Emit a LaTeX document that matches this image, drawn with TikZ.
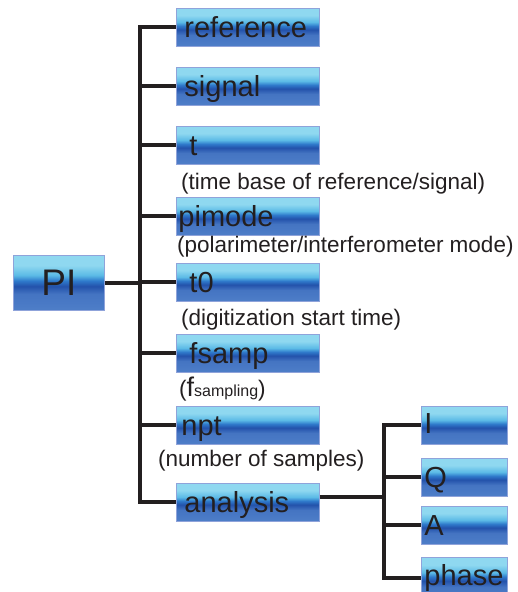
\documentclass[tikz,border=0pt]{standalone}
\usepackage{fontspec}
\setmainfont{Liberation Sans}
\definecolor{bL}{HTML}{8FD8F0}
\definecolor{bC}{HTML}{5BBAE6}
\definecolor{bM}{HTML}{2F7ACB}
\definecolor{bD}{HTML}{2352AB}
\definecolor{bB}{HTML}{4474C2}
\definecolor{bB0}{HTML}{4E7EC8}
\definecolor{bdr}{HTML}{8FA3DA}
\definecolor{ink}{HTML}{231F20}
\pgfdeclareverticalshading{boxshade}{100bp}{color(0bp)=(bB0); color(25bp)=(bB0); color(40bp)=(bB); color(47bp)=(bD); color(52bp)=(bM); color(57bp)=(bC); color(66bp)=(bL); color(75bp)=(bL); color(100bp)=(bL)}
\tikzset{
  gbox/.style={draw=bdr, line width=0.9pt, shading=boxshade, rectangle, anchor=north west,
    minimum height=38pt, text=ink, font=\fontsize{29pt}{29pt}\selectfont,
    text height=21pt, text depth=0pt, align=left},
  lbox/.style={gbox, minimum width=143pt, text width=127pt, inner xsep=8pt},
  rbox/.style={gbox, minimum width=86pt, text width=80pt, inner xsep=3pt},
  lbl/.style={anchor=base west, inner sep=0pt, text=ink, font=\fontsize{22.5pt}{22.5pt}\selectfont},
  conn/.style={draw=ink, line width=4pt, line join=miter}
}
\begin{document}
\begin{tikzpicture}[x=1pt,y=-1pt]
\useasboundingbox (0,0) rectangle (517,592);
% main nodes
\node[gbox, minimum width=91pt, minimum height=55pt, align=center, text width=85pt, inner xsep=3pt,
      font=\fontsize{37pt}{37pt}\selectfont, text height=25pt] (PI) at (13,255) {PI};
\node[lbox] (ref) at (176,8) {reference};
\node[lbox] (sig) at (176,67) {signal};
\node[lbox] (t) at (176,126) {\hspace*{5pt}t};
\node[lbox] (pim) at (176,197) {\hspace*{-6pt}pimode};
\node[lbox] (tz) at (176,263) {\hspace*{5pt}t0};
\node[lbox] (fs) at (176,334) {\hspace*{5pt}fsamp};
\node[lbox] (npt) at (176,406) {\hspace*{-3pt}npt};
\node[lbox] (an) at (176,483) {analysis};
\node[rbox, text height=16pt] (I) at (421,406) {I};
\node[rbox] (Q) at (421,458) {Q};
\node[rbox] (A) at (421,506) {A};
\node[rbox, minimum height=42pt, text height=14pt] (ph) at (421,557) {phase};
% labels
\node[lbl] (l1) at (181,189) {(time base of reference/signal)};
\node[lbl] (l2) at (177,252) {(polarimeter/interferometer mode)};
\node[lbl] (l3) at (181,325) {(digitization start time)};
\node[lbl] (l4) at (179,396) {({\fontsize{27pt}{27pt}\selectfont f}{\fontsize{16pt}{16pt}\selectfont sampling})};
\node[lbl] (l5) at (158,466) {(number of samples)};
% connectors
\coordinate (tk) at (140,0);
\coordinate (tk2) at (384,0);
\draw[conn] (ref.west) -| (tk |- an.west) -- (an.west);
\draw[conn] (sig.west) -- (sig.west -| tk);
\draw[conn] (t.west) -- (t.west -| tk);
\draw[conn] (pim.west) -- (pim.west -| tk);
\draw[conn] (tz.west) -- (tz.west -| tk);
\draw[conn] (fs.west) -- (fs.west -| tk);
\draw[conn] (npt.west) -- (npt.west -| tk);
\draw[conn] (PI.east) -- (PI.east -| tk);
\draw[conn] (I.west) -| (tk2 |- ph.west) -- (ph.west);
\draw[conn] (Q.west) -- (Q.west -| tk2);
\draw[conn] (A.west) -- (A.west -| tk2);
\draw[conn] ([yshift=5pt]an.east) -- ([yshift=5pt]an.east -| tk2);
\end{tikzpicture}
\end{document}
